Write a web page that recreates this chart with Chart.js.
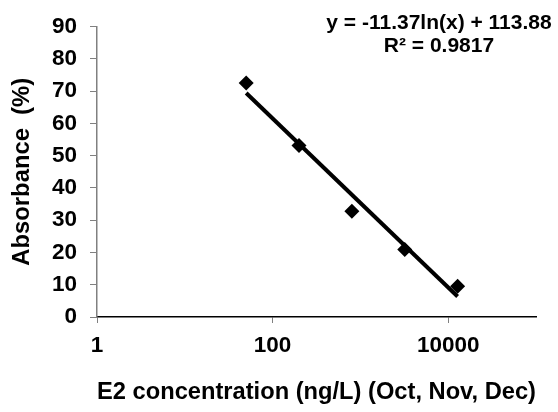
<!DOCTYPE html>
<html>
<head>
<meta charset="utf-8">
<script src="https://cdn.jsdelivr.net/npm/chart.js@4"></script>
<style>
  body { margin: 0; background: #fff; }
  #wrap { width: 558px; height: 412px; }
</style>
</head>
<body>
<div id="wrap"><canvas id="absChart" width="558" height="412"></canvas></div>
<script>
// E2 concentration (ng/L) vs absorbance (%)
const concentrations = [50, 200, 800, 3200, 12800];
const absorbance = [72.5, 53.1, 32.8, 20.9, 9.5];
const xTickValues = [1, 100, 10000];
const fitSlope = -11.37;
const fitIntercept = 113.88;
const fitLabel = ['y = -11.37ln(x) + 113.88', 'R\u00b2 = 0.9817'];

const points = concentrations.map((c, i) => ({ x: c, y: absorbance[i] }));
const xMin = Math.min(...concentrations), xMax = Math.max(...concentrations);
const trend = [xMin, xMax].map(c => ({ x: c, y: fitSlope * Math.log(c) + fitIntercept }));

const FONT = '"Liberation Sans", Arial, sans-serif';

const equationText = {
    id: 'equationText',
    afterDraw(chart) {
        const ctx = chart.ctx;
        ctx.save();
        ctx.fillStyle = '#000';
        ctx.font = 'bold 21px ' + FONT;
        ctx.textAlign = 'center';
        ctx.textBaseline = 'alphabetic';
        ctx.fillText(fitLabel[0], 439, 29);
        ctx.fillText(fitLabel[1], 439, 52);
        ctx.restore();
    }
};

new Chart(document.getElementById('absChart'), {
    type: 'scatter',
    data: {
        datasets: [
            {
                label: 'Absorbance',
                data: points,
                pointStyle: 'rectRot',
                pointRadius: 7.5,
                pointHoverRadius: 7.5,
                backgroundColor: '#000',
                borderColor: '#000',
                borderWidth: 0,
                showLine: false
            },
            {
                label: 'Log fit',
                data: trend,
                showLine: true,
                borderColor: '#000',
                borderWidth: 4,
                pointRadius: 0,
                fill: false
            }
        ]
    },
    options: {
        responsive: false,
        animation: false,
        devicePixelRatio: 1,
        layout: { padding: { left: 0, right: 22, top: 23, bottom: 0 } },
        plugins: { legend: { display: false }, tooltip: { enabled: false } },
        scales: {
            x: {
                type: 'logarithmic',
                min: 1,
                max: 100000,
                afterBuildTicks: s => { s.ticks = xTickValues.map(v => ({ value: v })); },
                afterFit: s => { s.height = 95; },
                border: { color: '#000', width: 1.5 },
                grid: { drawOnChartArea: false, drawTicks: true, tickLength: 6, color: '#808080' },
                ticks: {
                    color: '#000',
                    font: { family: FONT, size: 22.5, weight: 'bold' },
                    padding: 9,
                    maxRotation: 0,
                    autoSkip: false,
                    callback: v => String(v)
                },
                title: {
                    display: true,
                    text: 'E2 concentration (ng/L) (Oct, Nov, Dec)',
                    color: '#000',
                    font: { family: FONT, size: 23.8, weight: 'bold' },
                    padding: { top: 0, bottom: 5 }
                }
            },
            y: {
                min: 0,
                max: 90,
                afterFit: s => { s.width = 97; },
                border: { color: '#808080', width: 1.5 },
                grid: { drawOnChartArea: false, drawTicks: true, tickLength: 7, color: '#808080' },
                ticks: {
                    stepSize: 10,
                    color: '#000',
                    font: { family: FONT, size: 22.5, weight: 'bold' },
                    padding: 13
                },
                title: {
                    display: true,
                    text: 'Absorbance  (%)',
                    color: '#000',
                    font: { family: FONT, size: 23.8, weight: 'bold' },
                    padding: { top: 8, bottom: 0 }
                }
            }
        }
    },
    plugins: [equationText]
});
</script>
</body>
</html>
